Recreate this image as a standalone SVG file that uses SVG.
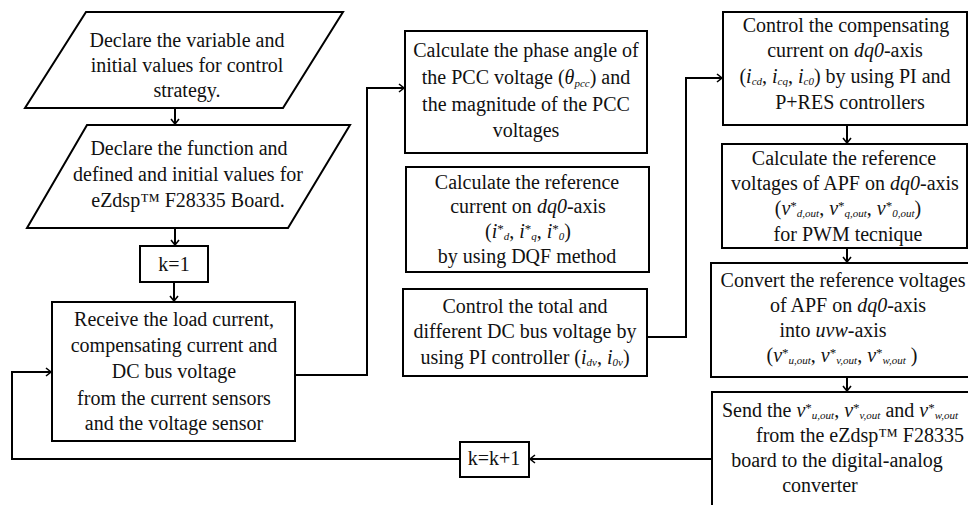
<svg xmlns="http://www.w3.org/2000/svg" width="968" height="505" viewBox="0 0 968 505">
<style>
.b{fill:#fff;stroke:#000;stroke-width:2}
.c{fill:none;stroke:#000;stroke-width:2}
text{font-family:"Liberation Serif","Times New Roman",serif;font-size:20px;fill:#111;text-anchor:middle}
.i{font-style:italic}
.s{font-style:italic;font-size:11px}
.p{font-size:13px}
</style>
<defs>
<marker id="arr" markerUnits="userSpaceOnUse" markerWidth="10" markerHeight="10" refX="6" refY="5" orient="auto">
<path d="M1,1 L6,5 L1,9" fill="none" stroke="#000" stroke-width="1.6"/>
</marker>
</defs>
<rect width="968" height="505" fill="#fff"/>
<g id="connectors">
<path class="c" d="M175,108 V124" marker-end="url(#arr)"/>
<path class="c" d="M175,228 V245" marker-end="url(#arr)"/>
<path class="c" d="M174,282 V301" marker-end="url(#arr)"/>
<path class="c" d="M295,375 H367 V88 H404" marker-end="url(#arr)"/>
<path class="c" d="M647,337 H686 V78 H722" marker-end="url(#arr)"/>
<path class="c" d="M847,125 V143" marker-end="url(#arr)"/>
<path class="c" d="M847,248 V262" marker-end="url(#arr)"/>
<path class="c" d="M847,377 V391" marker-end="url(#arr)"/>
<path class="c" d="M712,459 H530" marker-end="url(#arr)"/>
<path class="c" d="M460,459 H12 V372 H51" marker-end="url(#arr)"/>
</g>
<g id="n1">
<polygon class="b" points="86,12 343,12 283,108 25,108"/>
<text x="187" y="47">Declare the variable and</text>
<text x="187" y="72">initial values for control</text>
<text x="187" y="97">strategy.</text>
</g>
<g id="n2">
<polygon class="b" points="87,125 350,125 288,228 27,228"/>
<text x="189" y="155">Declare the function and</text>
<text x="188" y="181">defined and initial values for</text>
<text x="188" y="207">eZdsp™ F28335 Board.</text>
</g>
<g id="n3">
<rect class="b" x="140" y="246" width="68" height="36"/>
<text x="174" y="271">k=1</text>
</g>
<g id="n4">
<rect class="b" x="52" y="302" width="243" height="139"/>
<text x="174" y="326">Receive the load current,</text>
<text x="174" y="352">compensating current and</text>
<text x="174" y="378">DC bus voltage</text>
<text x="174" y="405">from the current sensors</text>
<text x="174" y="430">and the voltage sensor</text>
</g>
<g id="n5">
<rect class="b" x="405" y="31" width="242" height="122"/>
<text x="526" y="57">Calculate the phase angle of</text>
<text x="526" y="84">the PCC voltage (<tspan class="i">θ</tspan><tspan class="s" dy="3">pcc</tspan><tspan dy="-3">) and</tspan></text>
<text x="526" y="111">the magnitude of the PCC</text>
<text x="526" y="137">voltages</text>
</g>
<g id="n6">
<rect class="b" x="406" y="167" width="243" height="105"/>
<text x="527" y="189">Calculate the reference</text>
<text x="528" y="213">current on <tspan class="i">dq0</tspan>-axis</text>
<text x="528" y="238">(<tspan class="i">i</tspan><tspan class="p" dy="-5">*</tspan><tspan class="s" dy="7">d</tspan><tspan dy="-2">, </tspan><tspan class="i">i</tspan><tspan class="p" dy="-5">*</tspan><tspan class="s" dy="7">q</tspan><tspan dy="-2">, </tspan><tspan class="i">i</tspan><tspan class="p" dy="-5">*</tspan><tspan class="s" dy="7">0</tspan><tspan dy="-2">)</tspan></text>
<text x="527" y="263">by using DQF method</text>
</g>
<g id="n7">
<rect class="b" x="403" y="289" width="244" height="87"/>
<text x="525" y="313">Control the total and</text>
<text x="525" y="338">different DC bus voltage by</text>
<text x="525" y="364">using PI controller (<tspan class="i">i</tspan><tspan class="s" dy="2">dv</tspan><tspan dy="-2">, </tspan><tspan class="i">i</tspan><tspan class="s" dy="2">0v</tspan><tspan dy="-2">)</tspan></text>
</g>
<g id="n8">
<rect class="b" x="460" y="442" width="69" height="35"/>
<text x="494" y="465">k=k+1</text>
</g>
<g id="n9">
<rect class="b" x="723" y="12" width="244" height="113"/>
<text x="846" y="32">Control the compensating</text>
<text x="845" y="57">current on <tspan class="i">dq0</tspan>-axis</text>
<text x="845" y="83">(<tspan class="i">i</tspan><tspan class="s" dy="2">cd</tspan><tspan dy="-2">, </tspan><tspan class="i">i</tspan><tspan class="s" dy="2">cq</tspan><tspan dy="-2">, </tspan><tspan class="i">i</tspan><tspan class="s" dy="2">c0</tspan><tspan dy="-2">) by using PI and</tspan></text>
<text x="850" y="109">P+RES controllers</text>
</g>
<g id="n10">
<rect class="b" x="722" y="144" width="245" height="104"/>
<text x="844" y="165">Calculate the reference</text>
<text x="845" y="190">voltages of APF on <tspan class="i">dq0</tspan>-axis</text>
<text x="848" y="215">(<tspan class="i">v</tspan><tspan class="p" dy="-5">*</tspan><tspan class="s" dy="7">d,out</tspan><tspan dy="-2">, </tspan><tspan class="i">v</tspan><tspan class="p" dy="-5">*</tspan><tspan class="s" dy="7">q,out</tspan><tspan dy="-2">, </tspan><tspan class="i">v</tspan><tspan class="p" dy="-5">*</tspan><tspan class="s" dy="7">0,out</tspan><tspan dy="-2">)</tspan></text>
<text x="848" y="241">for PWM tecnique</text>
</g>
<g id="n11">
<rect class="b" x="711" y="263" width="275" height="114"/>
<text x="843" y="287">Convert the reference voltages</text>
<text x="848" y="312">of APF on <tspan class="i">dq0</tspan>-axis</text>
<text x="833" y="337">into <tspan class="i">uvw</tspan>-axis</text>
<text x="842" y="362">(<tspan class="i">v</tspan><tspan class="p" dy="-5">*</tspan><tspan class="s" dy="7">u,out</tspan><tspan dy="-2">, </tspan><tspan class="i">v</tspan><tspan class="p" dy="-5">*</tspan><tspan class="s" dy="7">v,out</tspan><tspan dy="-2">, </tspan><tspan class="i">v</tspan><tspan class="p" dy="-5">*</tspan><tspan class="s" dy="7">w,out</tspan><tspan dy="-2"> )</tspan></text>
</g>
<g id="n12">
<rect class="b" x="712" y="392" width="275" height="130"/>
<text x="840" y="417">Send the <tspan class="i">v</tspan><tspan class="p" dy="-5">*</tspan><tspan class="s" dy="7">u,out</tspan><tspan dy="-2">, </tspan><tspan class="i">v</tspan><tspan class="p" dy="-5">*</tspan><tspan class="s" dy="7">v,out</tspan><tspan dy="-2"> and </tspan><tspan class="i">v</tspan><tspan class="p" dy="-5">*</tspan><tspan class="s" dy="7">w,out</tspan></text>
<text x="860" y="442">from the eZdsp™ F28335</text>
<text x="837" y="467">board to the digital-analog</text>
<text x="820" y="492">converter</text>
</g>
</svg>
